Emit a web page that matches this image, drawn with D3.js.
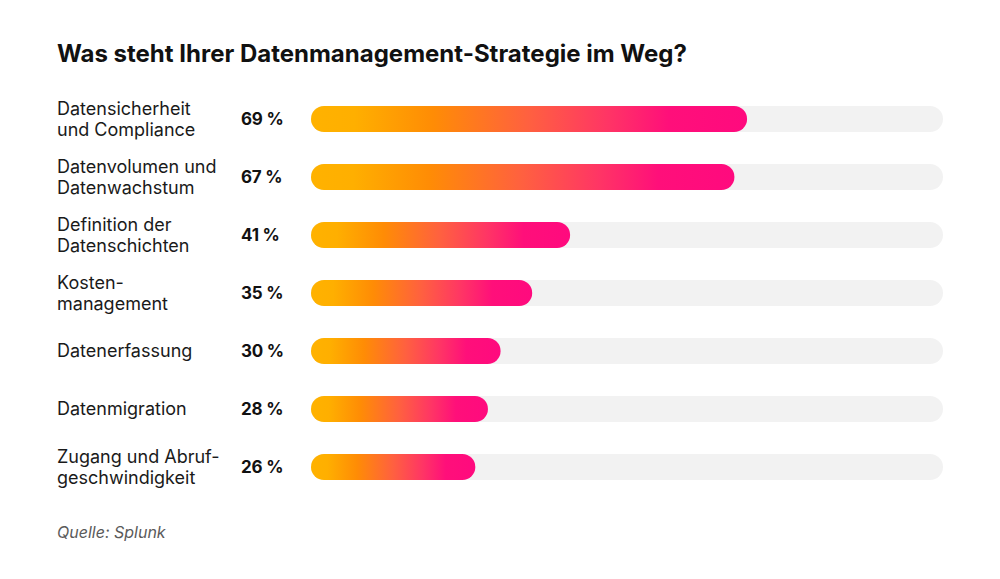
<!DOCTYPE html>
<html><head><meta charset="utf-8">
<script src="https://cdn.jsdelivr.net/npm/d3@7"></script>
<style>body{margin:0;background:#fff}svg{display:block}</style>
</head><body>
<svg id="c" width="1000" height="579"></svg>
<script>
const categories = [
  ["Datensicherheit","und Compliance"],
  ["Datenvolumen und","Datenwachstum"],
  ["Definition der","Datenschichten"],
  ["Kosten-","management"],
  ["Datenerfassung"],
  ["Datenmigration"],
  ["Zugang und Abruf-","geschwindigkeit"]
];
const values = [69, 67, 41, 35, 30, 28, 26];
const valueLabels = ["69 %","67 %","41 %","35 %","30 %","28 %","26 %"];
const title = "Was steht Ihrer Datenmanagement-Strategie im Weg?";
const source = "Quelle: Splunk";

const svg = d3.select("#c");
const font = "Inter, 'Noto Sans', sans-serif";
const x = d3.scaleLinear().domain([0,100]).range([311,943]);
const y = d3.scaleBand().domain(d3.range(values.length)).range([90,496]).paddingInner(0.552).paddingOuter(0.276);
const bh = y.bandwidth();

const defs = svg.append("defs");
const g = defs.append("linearGradient").attr("id","grad").attr("x1","0").attr("x2","1").attr("y1","0").attr("y2","0");
[[0,"#FFB200"],[0.1,"#FFAF00"],[0.28,"#FF8C05"],[0.5,"#FF6040"],[0.68,"#FF3565"],[0.82,"#FF0F7A"],[1,"#FF0A7E"]]
  .forEach(([o,c])=>g.append("stop").attr("offset",o).attr("stop-color",c));

svg.append("text").attr("x",57).attr("y",62).attr("font-family",font).attr("font-weight",700)
  .attr("font-size",24).attr("fill","#111").text(title);

const rows = svg.selectAll("g.row").data(values).join("g").attr("class","row");
rows.append("rect").attr("x",x(0)).attr("y",(d,i)=>y(i)).attr("width",x(100)-x(0)).attr("height",bh)
  .attr("rx",bh/2).attr("fill","#F2F2F2");
rows.append("rect").attr("x",x(0)).attr("y",(d,i)=>y(i)).attr("width",d=>x(d)-x(0)).attr("height",bh)
  .attr("rx",bh/2).attr("fill","url(#grad)");
rows.append("text").attr("x",241).attr("y",(d,i)=>y(i)+bh/2+6).attr("font-family",font).attr("font-weight",700)
  .attr("font-size",17).attr("fill","#111").attr("letter-spacing",-0.2).text((d,i)=>valueLabels[i]);
rows.each(function(d,i){
  const lines = categories[i];
  const cy = y(i)+bh/2;
  const t = d3.select(this).append("text").attr("font-family",font).attr("font-size",18).attr("fill","#1a1a1a");
  lines.forEach((l,k)=>{
    t.append("tspan").attr("x",57).attr("y",cy+6+(k-(lines.length-1)/2)*21).text(l);
  });
});

svg.append("text").attr("x",57).attr("y",538).attr("font-family",font).attr("font-style","italic")
  .attr("font-size",16).attr("fill","#5a5a5a").text(source);
</script>
</body></html>
